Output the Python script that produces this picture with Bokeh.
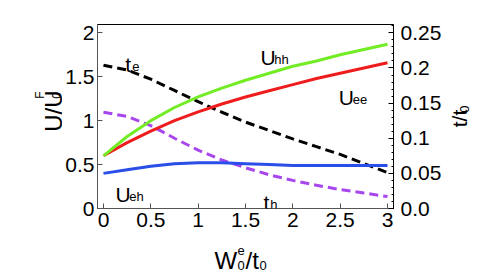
import math
from bokeh.plotting import figure
from bokeh.models import Range1d, LinearAxis, FixedTicker, Label
from bokeh.layouts import row, column
from bokeh.embed import file_html
from bokeh.resources import INLINE

# ---- data ----
x_vals = [0.0, 0.25, 0.5, 0.75, 1.0, 1.25, 1.5, 1.75, 2.0, 2.25, 2.5, 2.75, 3.0]
u_hh = [0.60, 0.82, 1.00, 1.15, 1.27, 1.37, 1.46, 1.54, 1.62, 1.68, 1.75, 1.81, 1.87]
u_ee = [0.60, 0.75, 0.88, 1.00, 1.10, 1.19, 1.27, 1.34, 1.41, 1.48, 1.54, 1.60, 1.66]
u_eh = [0.40, 0.44, 0.48, 0.51, 0.52, 0.52, 0.51, 0.50, 0.49, 0.49, 0.49, 0.49, 0.49]
t_e = [0.204, 0.197, 0.184, 0.168, 0.152, 0.137, 0.123, 0.111, 0.099, 0.088, 0.077, 0.064, 0.051]
t_h = [0.137, 0.131, 0.118, 0.100, 0.083, 0.069, 0.058, 0.048, 0.040, 0.033, 0.027, 0.022, 0.017]

x_ticks = [0, 0.5, 1, 1.5, 2, 2.5, 3]
x_tick_labels = ["0", "0.5", "1", "1.5", "2", "2.5", "3"]
left_ticks = [0, 0.5, 1, 1.5, 2]
left_tick_labels = ["0", "0.5", "1", "1.5", "2"]
right_ticks = [0, 0.05, 0.1, 0.15, 0.2, 0.25]
right_tick_labels = ["0.0", "0.05", "0.1", "0.15", "0.2", "0.25"]

FONT = "Liberation Sans"
X0, X1 = -0.063, 3.063
Y0, Y1 = 0.0, 2.095
RATIO = 8.0  # left-axis units per right-axis unit

# page layout (pixels)
A_W = 62            # left title strip
C_L = 444           # right title strip starts here
C_W = 30
FRAME_L, FRAME_T, FRAME_W, FRAME_H = 95, 24, 298, 184
M_W = C_L - A_W     # main figure width
M_H = 240           # main figure height
B_H = 38            # bottom title strip
TOTAL_W = A_W + M_W + C_W

p = figure(width=M_W, height=M_H, output_backend="svg", toolbar_location=None,
           x_range=Range1d(X0, X1), y_range=Range1d(Y0, Y1))
p.extra_y_ranges = {"right": Range1d(Y0 / RATIO, Y1 / RATIO)}
p.min_border_left = FRAME_L - A_W
p.min_border_top = FRAME_T
p.min_border_right = M_W - (FRAME_L - A_W) - FRAME_W
p.min_border_bottom = M_H - FRAME_T - FRAME_H
p.xgrid.visible = False
p.ygrid.visible = False
p.outline_line_color = "black"
p.outline_line_width = 1
p.background_fill_color = "white"
p.border_fill_color = "white"


def style_axis(ax, ticks, labels, color):
    ax.ticker = FixedTicker(ticks=ticks)
    ax.major_label_overrides = {t: l for t, l in zip(ticks, labels)}
    ax.major_label_text_font = FONT
    ax.major_label_text_font_size = "21px"
    ax.major_label_text_color = "black"
    ax.axis_line_color = color
    ax.major_tick_line_color = color
    ax.major_tick_in = 5
    ax.major_tick_out = 0
    ax.minor_tick_line_color = None


style_axis(p.xaxis[0], x_ticks, x_tick_labels, "#555555")
p.xaxis[0].major_label_standoff = 4
style_axis(p.yaxis[0], left_ticks, left_tick_labels, "#555555")
p.yaxis[0].major_label_standoff = 3

ra = LinearAxis(y_range_name="right")
style_axis(ra, right_ticks, right_tick_labels, "black")
minor = [round(0.01 * i, 3) for i in range(0, 27)]
ra.ticker = FixedTicker(ticks=right_ticks, minor_ticks=minor)
ra.minor_tick_line_color = "black"
ra.minor_tick_in = 2
ra.minor_tick_out = 0
ra.major_label_standoff = 7
p.add_layout(ra, "right")

# ---- curves ----
p.line(x_vals, t_e, y_range_name="right", line_color="black", line_width=3, line_dash="9 5")
p.line(x_vals, t_h, y_range_name="right", line_color="#a846ee", line_width=3, line_dash="9 5")
p.line(x_vals, u_eh, line_color="#2a4ee8", line_width=3)
p.line(x_vals, u_ee, line_color="#ee1c1c", line_width=3)
p.line(x_vals, u_hh, line_color="#72ec24", line_width=3)


# ---- curve labels (page pixels -> data units of the main figure) ----
def dx(px):
    return X0 + (px - FRAME_L) / FRAME_W * (X1 - X0)


def dy(py):
    return Y1 - (py - FRAME_T) / FRAME_H * (Y1 - Y0)


def mtxt(s, px, py, size):
    p.add_layout(Label(x=dx(px), y=dy(py), text=s, text_font=FONT,
                       text_font_size=f"{size}px", text_color="black",
                       text_align="left", text_baseline="alphabetic"))


mtxt("U", 259, 57, 21); mtxt("hh", 273, 59, 13)
mtxt("U", 338, 97, 21); mtxt("ee", 352, 99, 13)
mtxt("U", 113, 194, 21); mtxt("eh", 127, 196, 13)
mtxt("t", 123, 64, 21); mtxt("e", 130, 66, 13)
mtxt("t", 262, 202, 21); mtxt("h", 269, 204, 13)


# ---- strips holding the axis titles ----
def strip(w, h):
    f = figure(width=w, height=h, output_backend="svg", toolbar_location=None,
               x_range=Range1d(0, w), y_range=Range1d(0, h),
               x_axis_location=None, y_axis_location=None, min_border=0)
    f.xgrid.visible = False
    f.ygrid.visible = False
    f.outline_line_color = None
    f.background_fill_color = "white"
    f.border_fill_color = "white"
    return f


def stxt(f, left, top, h, s, px, py, size, angle=0.0):
    f.add_layout(Label(x=px - left, y=top + h - py, text=s, text_font=FONT,
                       text_font_size=f"{size}px", text_color="black",
                       text_align="left", text_baseline="alphabetic", angle=angle))


up = math.pi / 2

# left: U/U_0^F (reads upward)
fa = strip(A_W, M_H)
stxt(fa, 0, 0, M_H, "U/U", 53, 140, 24, up)
stxt(fa, 0, 0, M_H, "0", 56, 97, 12, up)
stxt(fa, 0, 0, M_H, "F", 39, 97, 12, up)

# right: t/t_0 (reads upward)
fc = strip(C_W, M_H)
stxt(fc, C_L, 0, M_H, "t/t", 459, 134, 21, up)
stxt(fc, C_L, 0, M_H, "0", 464, 115, 13, up)

# bottom: W_0^e / t_0
fb = strip(TOTAL_W, B_H)
stxt(fb, 0, M_H, B_H, "W", 214, 260, 24)
stxt(fb, 0, M_H, B_H, "e", 237, 250, 13)
stxt(fb, 0, M_H, B_H, "0", 237, 265, 13)
stxt(fb, 0, M_H, B_H, "/t", 245, 260, 24)
stxt(fb, 0, M_H, B_H, "0", 259, 265, 13)

layout = column(row(fa, p, fc), fb)
open("out.html", "w").write(file_html(layout, INLINE))
